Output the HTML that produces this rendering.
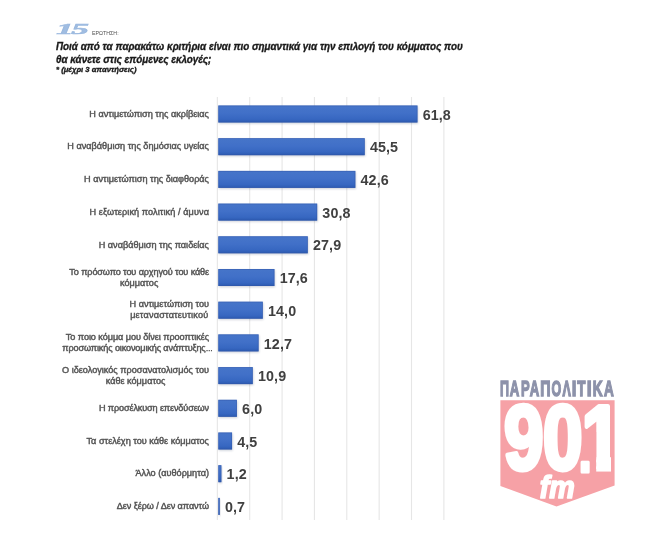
<!DOCTYPE html>
<html><head><meta charset="utf-8"><style>
html,body{margin:0;padding:0;background:#fff;}
body{width:650px;height:559px;position:relative;overflow:hidden;font-family:"Liberation Sans",sans-serif;}
.v{position:absolute;font-weight:bold;font-size:14.3px;letter-spacing:0.1px;line-height:16px;color:#404040;white-space:nowrap;filter:blur(0.3px);}
.l{position:absolute;right:441px;font-size:9.13px;line-height:11px;color:#555;white-space:nowrap;-webkit-text-stroke:0.45px #555;filter:blur(0.35px);}
.l2{position:absolute;left:50%;top:11px;transform:translateX(-50%);}
.q{position:absolute;left:56px;font-weight:bold;font-style:italic;color:#1a1a1a;white-space:nowrap;-webkit-text-stroke:0.35px #1a1a1a;filter:blur(0.3px);}
</style></head><body>
<svg style="position:absolute;left:0;top:0" width="650" height="559">
<defs>
<linearGradient id="bg" x1="0" y1="0" x2="0" y2="1">
<stop offset="0" stop-color="#4675c9"/><stop offset="0.45" stop-color="#4170c8"/><stop offset="0.8" stop-color="#3767c1"/><stop offset="1" stop-color="#2c5ab0"/>
</linearGradient>
<filter id="sh" x="-10%" y="-30%" width="120%" height="160%"><feGaussianBlur stdDeviation="0.8"/></filter>
</defs>
<rect x="216.80" y="97" width="1.1" height="423" fill="#e6e6e6"/>
<rect x="249.16" y="97" width="1.1" height="423" fill="#e6e6e6"/>
<rect x="281.52" y="97" width="1.1" height="423" fill="#e6e6e6"/>
<rect x="313.88" y="97" width="1.1" height="423" fill="#e6e6e6"/>
<rect x="346.24" y="97" width="1.1" height="423" fill="#e6e6e6"/>
<rect x="378.60" y="97" width="1.1" height="423" fill="#e6e6e6"/>
<rect x="410.96" y="97" width="1.1" height="423" fill="#e6e6e6"/>
<rect x="443.32" y="97" width="1.1" height="423" fill="#e6e6e6"/>
<rect x="218.90" y="106.60" width="199.18" height="17.00" fill="#1a2a50" opacity="0.22" filter="url(#sh)"/>
<rect x="218.30" y="105.50" width="199.18" height="17.00" fill="url(#bg)"/>
<rect x="218.70" y="105.90" width="198.38" height="16.20" fill="none" stroke="#3358a8" stroke-opacity="0.55" stroke-width="0.8"/>
<rect x="218.90" y="139.30" width="146.44" height="17.00" fill="#1a2a50" opacity="0.22" filter="url(#sh)"/>
<rect x="218.30" y="138.20" width="146.44" height="17.00" fill="url(#bg)"/>
<rect x="218.70" y="138.60" width="145.64" height="16.20" fill="none" stroke="#3358a8" stroke-opacity="0.55" stroke-width="0.8"/>
<rect x="218.90" y="172.00" width="137.05" height="17.00" fill="#1a2a50" opacity="0.22" filter="url(#sh)"/>
<rect x="218.30" y="170.90" width="137.05" height="17.00" fill="url(#bg)"/>
<rect x="218.70" y="171.30" width="136.25" height="16.20" fill="none" stroke="#3358a8" stroke-opacity="0.55" stroke-width="0.8"/>
<rect x="218.90" y="204.70" width="98.87" height="17.00" fill="#1a2a50" opacity="0.22" filter="url(#sh)"/>
<rect x="218.30" y="203.60" width="98.87" height="17.00" fill="url(#bg)"/>
<rect x="218.70" y="204.00" width="98.07" height="16.20" fill="none" stroke="#3358a8" stroke-opacity="0.55" stroke-width="0.8"/>
<rect x="218.90" y="237.40" width="89.48" height="17.00" fill="#1a2a50" opacity="0.22" filter="url(#sh)"/>
<rect x="218.30" y="236.30" width="89.48" height="17.00" fill="url(#bg)"/>
<rect x="218.70" y="236.70" width="88.68" height="16.20" fill="none" stroke="#3358a8" stroke-opacity="0.55" stroke-width="0.8"/>
<rect x="218.90" y="270.10" width="56.15" height="17.00" fill="#1a2a50" opacity="0.22" filter="url(#sh)"/>
<rect x="218.30" y="269.00" width="56.15" height="17.00" fill="url(#bg)"/>
<rect x="218.70" y="269.40" width="55.35" height="16.20" fill="none" stroke="#3358a8" stroke-opacity="0.55" stroke-width="0.8"/>
<rect x="218.90" y="302.80" width="44.50" height="17.00" fill="#1a2a50" opacity="0.22" filter="url(#sh)"/>
<rect x="218.30" y="301.70" width="44.50" height="17.00" fill="url(#bg)"/>
<rect x="218.70" y="302.10" width="43.70" height="16.20" fill="none" stroke="#3358a8" stroke-opacity="0.55" stroke-width="0.8"/>
<rect x="218.90" y="335.50" width="40.30" height="17.00" fill="#1a2a50" opacity="0.22" filter="url(#sh)"/>
<rect x="218.30" y="334.40" width="40.30" height="17.00" fill="url(#bg)"/>
<rect x="218.70" y="334.80" width="39.50" height="16.20" fill="none" stroke="#3358a8" stroke-opacity="0.55" stroke-width="0.8"/>
<rect x="218.90" y="368.20" width="34.47" height="17.00" fill="#1a2a50" opacity="0.22" filter="url(#sh)"/>
<rect x="218.30" y="367.10" width="34.47" height="17.00" fill="url(#bg)"/>
<rect x="218.70" y="367.50" width="33.67" height="16.20" fill="none" stroke="#3358a8" stroke-opacity="0.55" stroke-width="0.8"/>
<rect x="218.90" y="400.90" width="18.62" height="17.00" fill="#1a2a50" opacity="0.22" filter="url(#sh)"/>
<rect x="218.30" y="399.80" width="18.62" height="17.00" fill="url(#bg)"/>
<rect x="218.70" y="400.20" width="17.82" height="16.20" fill="none" stroke="#3358a8" stroke-opacity="0.55" stroke-width="0.8"/>
<rect x="218.90" y="433.60" width="13.76" height="17.00" fill="#1a2a50" opacity="0.22" filter="url(#sh)"/>
<rect x="218.30" y="432.50" width="13.76" height="17.00" fill="url(#bg)"/>
<rect x="218.70" y="432.90" width="12.96" height="16.20" fill="none" stroke="#3358a8" stroke-opacity="0.55" stroke-width="0.8"/>
<rect x="218.90" y="466.30" width="3.08" height="17.00" fill="#1a2a50" opacity="0.22" filter="url(#sh)"/>
<rect x="218.30" y="465.20" width="3.08" height="17.00" fill="url(#bg)"/>
<rect x="218.70" y="465.60" width="2.28" height="16.20" fill="none" stroke="#3358a8" stroke-opacity="0.55" stroke-width="0.8"/>
<rect x="218.90" y="499.00" width="1.47" height="17.00" fill="#1a2a50" opacity="0.22" filter="url(#sh)"/>
<rect x="218.30" y="497.90" width="1.47" height="17.00" fill="url(#bg)"/>
<rect x="218.70" y="498.30" width="0.67" height="16.20" fill="none" stroke="#3358a8" stroke-opacity="0.55" stroke-width="0.8"/>
</svg>
<div style="position:absolute;left:56.3px;top:21.2px;font:italic bold 15px/16px 'Liberation Serif',serif;color:#a0bde2;-webkit-text-stroke:0.5px #9ab8de;transform:scaleX(2.36);transform-origin:0 0;letter-spacing:-1px">15</div>
<div style="position:absolute;left:92px;top:29.5px;font-size:5.3px;line-height:6px;color:#505050;filter:blur(0.2px)">ΕΡΩΤΗΣΗ:</div>
<div class="q" style="top:40px;font-size:10.6px;line-height:12px;transform:scaleX(0.93);transform-origin:0 0">Ποιά από τα παρακάτω κριτήρια είναι πιο σημαντικά για την επιλογή του κόμματος που</div>
<div class="q" style="top:52.9px;font-size:10.6px;line-height:12px;transform:scaleX(0.93);transform-origin:0 0">θα κάνετε στις επόμενες εκλογές;</div>
<div class="q" style="top:66px;font-size:7.7px;line-height:8px">* (μέχρι 3 απαντήσεις)</div>
<div class="v" style="left:422.68px;top:106.60px">61,8</div>
<div class="l" style="top:108.79px">Η αντιμετώπιση της ακρίβειας</div>
<div class="v" style="left:369.94px;top:139.30px">45,5</div>
<div class="l" style="top:141.49px">Η αναβάθμιση της δημόσιας υγείας</div>
<div class="v" style="left:360.55px;top:172.00px">42,6</div>
<div class="l" style="top:174.19px">Η αντιμετώπιση της διαφθοράς</div>
<div class="v" style="left:322.37px;top:204.70px">30,8</div>
<div class="l" style="top:206.89px"><span style="letter-spacing:0.08px">Η εξωτερική πολιτική / άμυνα</span></div>
<div class="v" style="left:312.98px;top:237.40px">27,9</div>
<div class="l" style="top:239.59px">Η αναβάθμιση της παιδείας</div>
<div class="v" style="left:279.65px;top:270.10px">17,6</div>
<div class="l" style="top:266.74px"><span style="letter-spacing:-0.13px">Το πρόσωπο του αρχηγού του κάθε</span><div class="l2">κόμματος</div></div>
<div class="v" style="left:268.00px;top:302.80px">14,0</div>
<div class="l" style="top:299.44px">Η αντιμετώπιση του<div class="l2"><span style="letter-spacing:0.18px">μεταναστατευτικού</span></div></div>
<div class="v" style="left:263.80px;top:335.50px">12,7</div>
<div class="l" style="top:332.14px"><span style="letter-spacing:-0.07px">Το ποιο κόμμα μου δίνει προοπτικές</span><div class="l2"><span style="letter-spacing:-0.14px">προσωπικής οικονομικής ανάπτυξης<span style="font-size:7px">…</span></span></div></div>
<div class="v" style="left:257.97px;top:368.20px">10,9</div>
<div class="l" style="top:364.84px">Ο ιδεολογικός προσανατολισμός του<div class="l2">κάθε κόμματος</div></div>
<div class="v" style="left:242.12px;top:400.90px">6,0</div>
<div class="l" style="top:403.09px"><span style="letter-spacing:-0.14px">Η προσέλκυση επενδύσεων</span></div>
<div class="v" style="left:237.26px;top:433.60px">4,5</div>
<div class="l" style="top:435.79px">Τα στελέχη του κάθε κόμματος</div>
<div class="v" style="left:226.58px;top:466.30px">1,2</div>
<div class="l" style="top:468.49px">Άλλο (αυθόρμητα)</div>
<div class="v" style="left:224.97px;top:499.00px">0,7</div>
<div class="l" style="top:501.19px"><span style="letter-spacing:-0.08px">Δεν ξέρω / Δεν απαντώ</span></div>
<svg style="position:absolute;left:0;top:0" width="650" height="559">
<defs><filter id="lb" x="-5%" y="-20%" width="110%" height="140%"><feGaussianBlur stdDeviation="0.3"/></filter><clipPath id="c1"><polygon points="580,398 611,398 611,476 596.2,476 596.2,432 580,432"/></clipPath></defs>
<polygon points="500.4,400.3 614.6,400.3 614.6,485.5 556.5,506.5 500.4,486" fill="#f6a1a6"/>
<text y="396.3" font-family="Liberation Sans" font-weight="bold" font-size="22.8" fill="#8d92aa" stroke="#8d92aa" stroke-width="1.5" filter="url(#lb)"><tspan x="499.92" textLength="9.00" lengthAdjust="spacingAndGlyphs">Π</tspan><tspan x="509.64" textLength="9.56" lengthAdjust="spacingAndGlyphs">Α</tspan><tspan x="521.03" textLength="8.66" lengthAdjust="spacingAndGlyphs">Ρ</tspan><tspan x="529.74" textLength="9.47" lengthAdjust="spacingAndGlyphs">Α</tspan><tspan x="540.13" textLength="10.28" lengthAdjust="spacingAndGlyphs">Π</tspan><tspan x="551.51" textLength="9.71" lengthAdjust="spacingAndGlyphs">Ο</tspan><tspan x="562.58" textLength="8.33" lengthAdjust="spacingAndGlyphs">Λ</tspan><tspan x="571.67" textLength="4.64" lengthAdjust="spacingAndGlyphs">Ι</tspan><tspan x="577.30" textLength="8.21" lengthAdjust="spacingAndGlyphs">Τ</tspan><tspan x="586.64" textLength="4.90" lengthAdjust="spacingAndGlyphs">Ι</tspan><tspan x="592.76" textLength="9.82" lengthAdjust="spacingAndGlyphs">Κ</tspan><tspan x="604.04" textLength="9.76" lengthAdjust="spacingAndGlyphs">Α</tspan></text>
<g font-family="Liberation Sans" font-weight="bold" fill="#fff" stroke="#fff" stroke-linejoin="round" filter="url(#lb)">
<text font-size="91" stroke-width="5" transform="translate(504,469) scale(0.78,1)">9</text>
<text font-size="91" stroke-width="5" transform="translate(543,469) scale(0.78,1)">0</text>
<text font-size="64" stroke-width="3" transform="translate(578.5,471.5) scale(0.75,1)">.</text>
<g clip-path="url(#c1)"><text font-size="91" stroke-width="5" transform="translate(581.7,469) scale(0.78,1)">1</text></g>
<text font-style="italic" font-size="30.5" stroke-width="1.6" transform="translate(539.8,497.6) scale(0.94,1)">fm</text>
</g>
</svg>
</body></html>
